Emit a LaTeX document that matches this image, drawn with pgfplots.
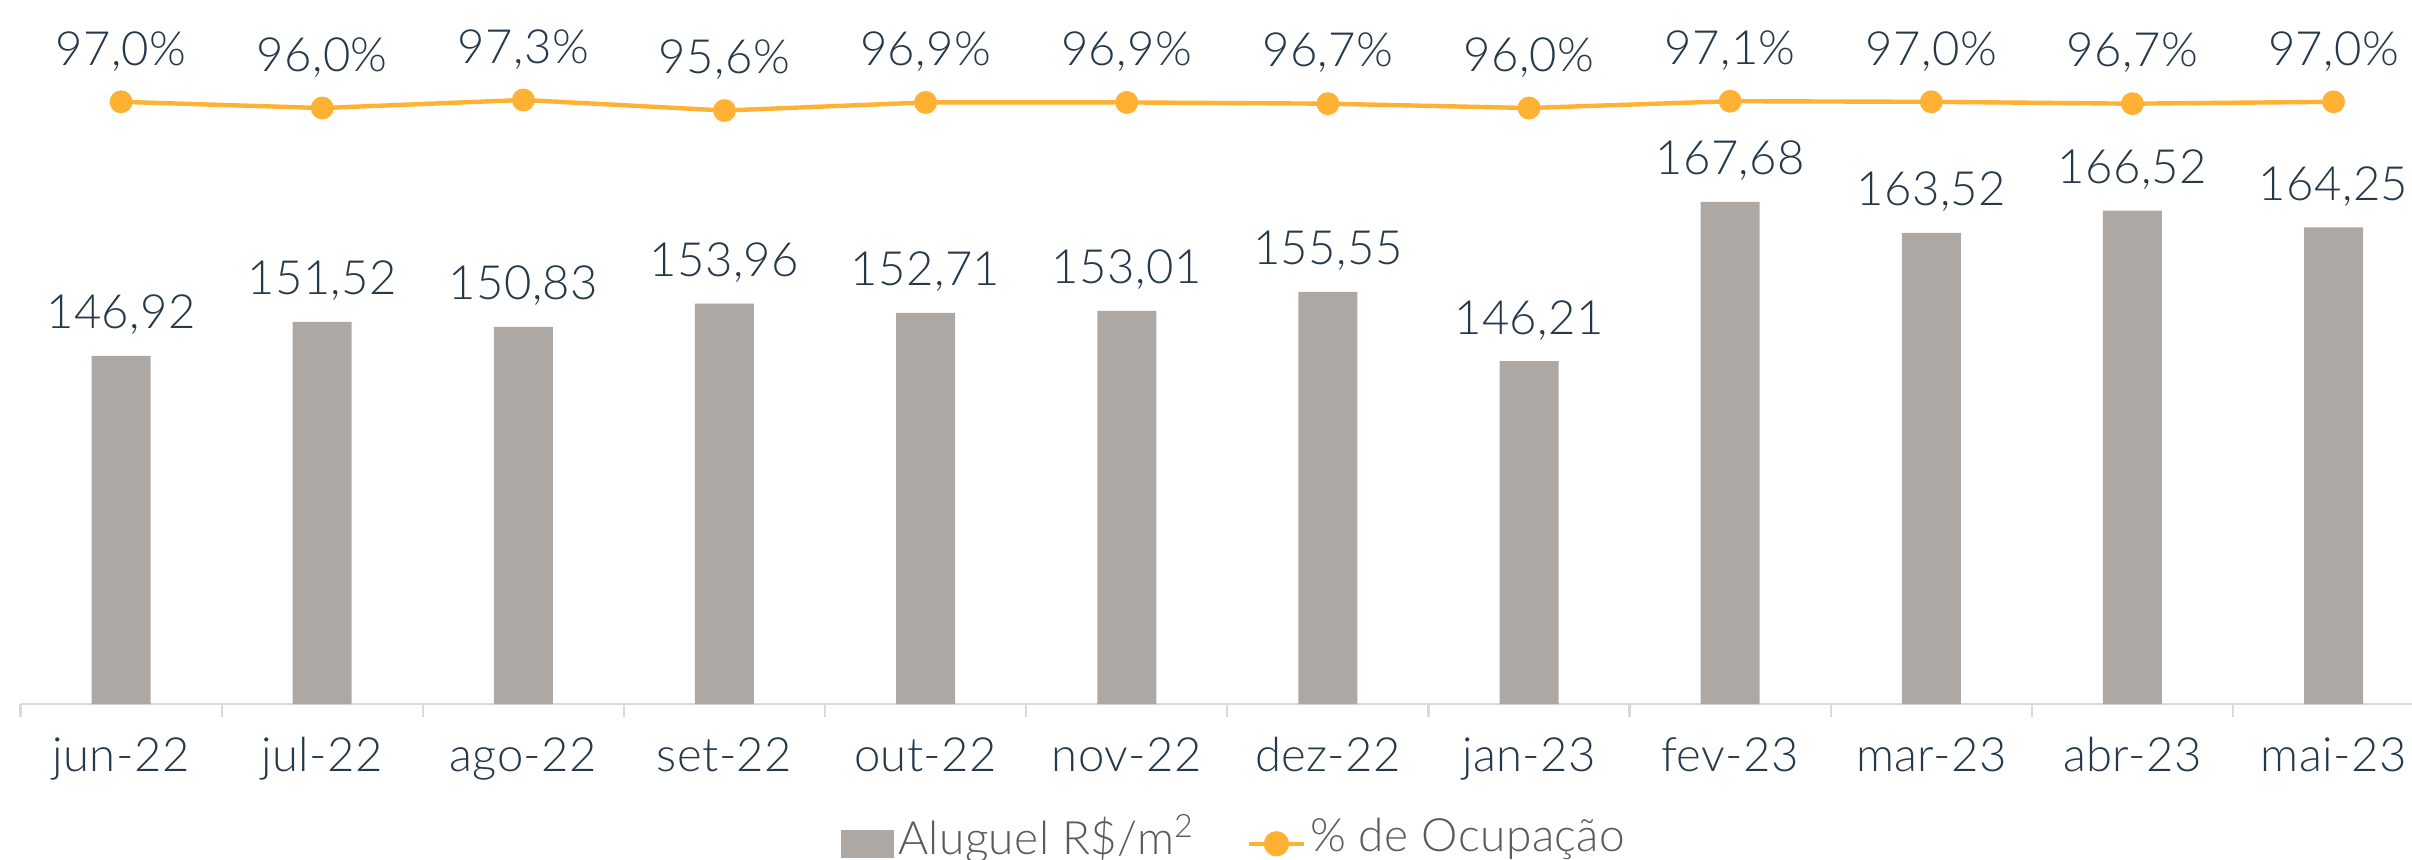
\documentclass[border=0pt]{standalone}
\usepackage{pgfplots}
\pgfplotsset{compat=1.18}
\usepackage{pgfplotstable}
\usepackage{fontspec}
\setmainfont{Lato}[UprightFont=* Light, LetterSpace=1]
\definecolor{barcol}{HTML}{ADA8A4}
\definecolor{linecol}{HTML}{FFB133}
\definecolor{txtcol}{HTML}{25394A}
\definecolor{legcol}{HTML}{5B5B5B}
\definecolor{axcol}{HTML}{D9D9D9}
\pgfplotstableread{
x rent occ occl
0 146.92 97.0 97,0
1 151.52 96.0 96,0
2 150.83 97.3 97,3
3 153.96 95.6 95,6
4 152.71 96.9 96,9
5 153.01 96.9 96,9
6 155.55 96.7 96,7
7 146.21 96.0 96,0
8 167.68 97.1 97,1
9 163.52 97.0 97,0
10 166.52 96.7 96,7
11 164.25 97.0 97,0
}\datatable
\begin{document}
\begin{tikzpicture}
\pgfplotsset{
  base/.style={
    at={(0,0)}, anchor=south west, scale only axis,
    width=597.875pt, height=176pt,
    xmin=-0.5, xmax=11.39, clip=false,
    font=\fontsize{11.8}{14}\selectfont,
  }
}
\begin{axis}[base,
  ymin=100, ymax=194.9,
  axis y line=none, axis x line*=bottom,
  x axis line style={color=axcol, line width=0.55pt},
  xtick={0,...,11},
  xticklabels={jun-22,jul-22,ago-22,set-22,out-22,nov-22,dez-22,jan-23,fev-23,mar-23,abr-23,mai-23},
  major tick length=0pt,
  minor xtick={-0.5,0.5,...,11.5},
  minor tick length=3.25pt,
  tick align=outside,
  minor tick style={color=axcol, line width=0.55pt},
  xticklabel style={text=txtcol, anchor=base, inner sep=0pt, yshift=-16.8pt},
  ytick=\empty,
]
\addplot[ybar, bar width=14.75pt, fill=barcol, draw=none,
  nodes near coords={\pgfmathprintnumber[fixed,fixed zerofill,precision=2,use comma,assume math mode=true]{\pgfplotspointmeta}},
  every node near coord/.append style={text=txtcol, anchor=base, inner sep=0pt, yshift=6.75pt},
] table[x=x,y=rent] {\datatable};
\end{axis}
\begin{axis}[base,
  ymin=0, ymax=113.4,
  hide axis,
  legend style={at={(0.5078,-0.19)}, anchor=center, draw=none, fill=none,
    text=legcol, font=\fontsize{11.5}{14}\selectfont,
    /tikz/every even column/.append style={column sep=12pt},
    nodes={inner sep=1pt},
    inner sep=0pt},
  legend columns=2,
  legend cell align=left,
]
\addlegendimage{legend image code/.code={\fill[barcol] (0pt,-4.75pt) rectangle (13pt,1.75pt);}}
\addlegendentry{Aluguel R\$/m\textsuperscript{2}}
\addplot[color=linecol, line width=1.1pt, mark=*, mark size=2.3pt, mark options={fill=linecol, draw=linecol},
  point meta=explicit symbolic,
  nodes near coords={\pgfplotspointmeta\%},
  every node near coord/.append style={text=txtcol, anchor=base, inner sep=0pt, yshift=9.2pt},
  legend image code/.code={\draw[linecol, line width=1.1pt] (0pt,-1.5pt) -- (13.75pt,-1.5pt); \fill[linecol] (6.875pt,-1.5pt) circle (2.6pt);},
] table[x=x,y=occ,meta=occl] {\datatable};
\addlegendentry{\% de Ocupação}
\end{axis}
\pgfresetboundingbox
\useasboundingbox (-5.125pt,-38.75pt) rectangle (597.875pt,176pt);
\end{tikzpicture}
\end{document}
